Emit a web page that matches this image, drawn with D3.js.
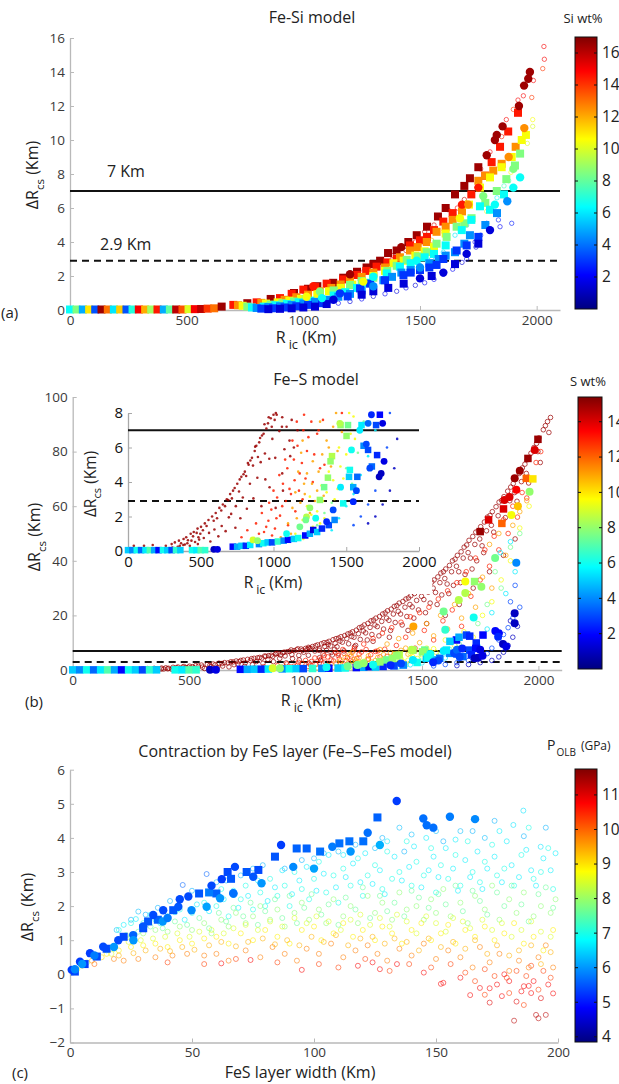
<!DOCTYPE html>
<html><head><meta charset="utf-8">
<script src="https://cdn.jsdelivr.net/npm/d3@7"></script>
<style>
body{margin:0;background:#fff}
svg{display:block;font-family:"Open Sans",sans-serif}
</style>
</head><body>
<svg id="fig" width="619" height="1084"></svg>
<script>
// ---------- (a) Fe-Si model: [R_ic km, dR_cs km, Si wt%] ----------
const siSquares = [
 [0,0.03,6.5],[28,0.03,8.5],[55,0.03,5],[82,0.03,11],[108,0.03,3.5],[135,0.03,16.5],[162,0.03,13],[188,0.03,6],[215,0.03,11.5],[242,0.03,3.5],[268,0.03,7],[295,0.03,15],[322,0.03,12],[348,0.03,9],[375,0.03,14.5],[402,0.03,5],[428,0.03,8],[455,0.03,16],[482,0.03,13.5],[508,0.05,10],[535,0.05,15],[562,0.06,16],[590,0.08,14],[618,0.1,13],
 [650,0.2,16.5],[760,0.4,16.5],[860,0.65,16.5],[960,1.0,16.5],[1060,1.4,16.5],[1128,1.6,16.5],[1171,1.9,16.5],[1271,2.5,16.5],[1329,2.9,16.5],[1363,3.35,16.5],[1486,4.4,16.5],[1577,5.5,16.5],[1650,6.8,16.5],[1714,7.75,16.5],
 [1020,1.25,16.5],[1230,2.25,16.5],[1300,2.7,16.5],[1400,3.5,16.5],[1450,4.0,16.5],[1530,4.9,16.5],[1610,6.0,16.5],[1690,7.3,16.5],[1750,8.4,16.5],
 [700,0.3,14.5],[800,0.45,14.5],[900,0.7,14.5],[1000,1.2,14.5],[1100,1.55,14.5],[1229,2.06,14.5],[1314,2.55,14.5],[1400,3.0,14.5],[1457,3.8,14.5],[1530,4.3,14.5],[1600,5.2,14.5],[1807,8.7,14.5],[1843,9.6,14.5],[1878,10.5,14.5],[1920,11.6,14.5],
 [950,0.95,14.5],[1050,1.35,14.5],[1170,1.8,14.5],[1270,2.3,14.5],[1360,2.8,14.5],[1500,4.1,14.5],[1560,4.7,14.5],[1640,5.7,14.5],[1720,6.8,14.5],[1780,7.9,14.5],
 [720,0.28,12.5],[820,0.42,12.5],[920,0.6,12.5],[1020,0.9,12.5],[1120,1.3,12.5],[1200,1.7,12.5],[1300,2.2,12.5],[1414,3.1,12.5],[1457,3.5,12.5],[1529,4.0,12.5],[1571,4.6,12.5],[1640,5.3,12.5],[1750,7.6,12.5],[1814,8.2,12.5],
 [970,0.75,12.5],[1070,1.1,12.5],[1160,1.5,12.5],[1250,1.95,12.5],[1350,2.5,12.5],[1490,3.7,12.5],[1610,4.9,12.5],[1680,5.8,12.5],[1780,7.9,12.5],[1850,8.6,12.5],[1910,9.6,12.5],
 [740,0.25,10.5],[840,0.38,10.5],[940,0.55,10.5],[1110,1.1,10.5],[1350,2.3,10.5],[1386,2.75,10.5],[1480,3.2,10.5],[1560,3.7,10.5],[1757,7.2,10.5],[1850,8.4,10.5],[1893,9.0,10.5],[1936,10.0,10.5],[1954,10.3,10.5],
 [890,0.45,10.5],[990,0.65,10.5],[1060,0.95,10.5],[1160,1.3,10.5],[1210,1.5,10.5],[1300,2.0,10.5],[1430,2.9,10.5],[1520,3.45,10.5],[1610,4.5,10.5],[1710,6.2,10.5],[1800,7.8,10.5],
 [760,0.2,8.5],[860,0.32,8.5],[960,0.5,8.5],[1200,1.47,8.5],[1300,1.9,8.5],[1443,2.95,8.5],[1529,3.4,8.5],[1571,3.9,8.5],[1614,4.3,8.5],[1657,4.9,8.5],[1721,5.4,8.5],[1829,7.0,8.5],[1907,8.5,8.5],[1929,9.2,8.5],
 [910,0.4,8.5],[1010,0.65,8.5],[1130,1.15,8.5],[1250,1.7,8.5],[1360,2.3,8.5],[1400,2.6,8.5],[1490,3.15,8.5],[1690,5.1,8.5],[1780,6.3,8.5],[1870,7.7,8.5],
 [780,0.15,6.5],[880,0.28,6.5],[980,0.45,6.5],[1180,1.05,6.5],[1357,2.15,6.5],[1414,2.55,6.5],[1560,3.3,6.5],[1679,4.7,6.5],[1757,6.1,6.5],
 [830,0.2,6.5],[930,0.35,6.5],[1030,0.55,6.5],[1130,0.85,6.5],[1230,1.3,6.5],[1270,1.6,6.5],[1460,2.75,6.5],[1520,3.1,6.5],[1610,3.8,6.5],[1720,5.3,6.5],[1800,5.9,6.5],[1860,6.8,6.5],
 [800,0.12,4.5],[900,0.22,4.5],[1000,0.38,4.5],[1100,0.6,4.5],[1200,0.95,4.5],[1343,1.75,4.5],[1420,2.2,4.5],[1580,3.0,4.5],[1650,3.4,4.5],[1714,4.4,4.5],
 [850,0.17,4.5],[950,0.3,4.5],[1050,0.48,4.5],[1150,0.78,4.5],[1250,1.15,4.5],[1380,1.95,4.5],[1460,2.35,4.5],[1540,2.75,4.5],[1610,3.2,4.5],[1690,3.9,4.5],[1780,5.0,4.5],[1830,5.7,4.5],
 [820,0.08,3],[920,0.15,3],[1020,0.3,3],[1243,1.27,3],[1286,1.55,3],[1429,2.05,3],[1500,2.35,3],[1571,2.65,3],[1600,3.0,3],[1657,3.5,3],
 [870,0.1,3],[970,0.22,3],[1080,0.4,3],[1190,0.8,3],[1350,1.75,3],[1460,2.2,3],[1540,2.5,3],[1700,3.8,3],[1750,4.3,3],
 [850,0.05,1.5],[950,0.1,1.5],[1050,0.2,1.5],[1364,1.3,1.5],
 [900,0.07,1.5],[1000,0.15,1.5],[1100,0.35,1.5],[1250,0.9,1.5],[1300,1.1,1.5],[1430,1.55,1.5],[1550,2.0,1.5],[1650,2.7,1.5],[1750,3.9,1.5]
];
const siDots = [
 [1200,2.1,16.5],[1420,3.7,16.5],[1786,9.1,16.5],[1821,10.0,16.5],[1829,10.3,16.5],[1854,10.8,16.5],[1924,12.0,16.5],[1946,13.2,16.5],[1964,13.6,16.5],[1971,14.0,16.5],
 [1043,1.4,14.5],[1680,6.2,14.5],[1750,7.2,14.5],
 [1707,6.2,12.5],[1880,9.0,12.5],[1947,10.7,12.5],
 [1014,0.78,10.5],[1257,1.67,10.5],[1671,5.4,10.5],
 [1071,1.08,8.5],[1771,6.7,8.5],[1900,8.3,8.5],
 [1080,0.7,6.5],[1300,1.96,6.5],[1486,2.9,6.5],[1821,6.2,6.5],[1900,7.2,6.5],[1929,7.8,6.5],
 [1300,1.4,4.5],[1500,2.5,4.5],[1874,6.4,4.5],
 [1157,0.98,3],
 [1129,0.6,1.5],[1500,1.86,1.5],[1600,2.2,1.5],[1700,3.3,1.5],[1800,4.7,1.5]
];
const siOpen = [
 [2031,15.5,15],[2033,14.75,15],[2026,14.2,14],[1986,13.5,15],[1979,12.5,14],[1943,12.6,15],[1920,12.35,15],[1900,11.8,14],[1870,11.2,15],[1850,10.2,14.5],[1800,9.3,15],[1760,8.3,15.5],[1690,6.5,16],[1660,6.0,15],[1620,5.9,16],[1560,5.0,15.5],[1520,4.6,16],[1480,4.0,15],[1440,3.5,16],[1380,3.2,15.5],[1330,2.8,16],[1260,2.3,15],[1180,1.8,16],[1100,1.4,15.5],[1000,1.1,16],
 [1983,11.2,10.5],[1983,10.8,10],[1960,9.8,10],[1890,8.1,10.5],
 [1880,7.6,7],[1860,7.3,7.5],[1830,6.6,6.5],[1800,5.8,8],[1786,5.8,10],
 [1893,5.1,2.5],[1843,4.9,2],[1836,5.3,2.5],[1786,5.1,3],[1736,4.0,2],[1740,3.7,1.5],[1760,4.4,2.5],[1700,3.0,2],[1680,2.8,1.5],[1640,2.4,2],[1600,2.1,1.5],[1560,1.8,2],[1520,1.6,2],[1480,1.45,1.5],[1440,1.3,2],[1400,1.1,1.5],[1350,0.95,2],[1300,0.8,1.5],[1250,0.65,2],[1200,0.5,1.5],[1150,0.4,2],[1100,0.3,1.5],[1050,0.25,2],[1000,0.15,1.5],[950,0.1,2],[900,0.07,1.5],
 [1700,5.0,5],[1650,4.4,6],[1600,3.4,6],[1550,3.0,5],[1500,2.6,5.5],[1450,2.3,6],[1600,4.6,11],[1650,5.5,12],[1700,6.3,13],[1550,4.1,12]
];
const siRange = [0, 17];
const siTicksX = [0, 500, 1000, 1500, 2000];
const siTicksY = [0, 2, 4, 6, 8, 10, 12, 14, 16];
const siBarTicks = [2, 4, 6, 8, 10, 12, 14, 16];

// ---------- (b) Fe-S model: [R_ic km, dR_cs km, S wt%] ----------
const sOpen = [
 // highest S content: dense band under the upper envelope
 [300,0.4,15],[305,0.2,15],[322,0.5,15],[350,0.6,15],[356,0.3,15],[382,0.7,15],[400,0.8,15],[408,0.45,15],[431,1.0,15],[436,0.6,15],[452,1.1,15],[478,1.3,15],[484,0.8,15],[502,1.4,15],[497,1.0,15],[528,1.6,15],[553,1.8,15],[578,2.0,15],[603,2.2,15],[628,2.5,15],[652,2.7,15],[679,3.0,15],[702,3.3,15],[722,3.5,15],[751,3.9,15],[779,4.3,15],[803,4.6,15],[829,5.0,15],[852,5.4,15],[871,5.8,15],[882,6.1,15],[902,6.3,15],[921,6.7,15],[932,6.8,15],[951,7.1,15],[962,7.4,15],[981,7.7,15],[1000,7.9,15],[1016,8.0,15],
 [342,0.25,15],[365,0.45,15],[391,0.38,15],[412,0.62,15],[425,0.3,15],[447,0.85,15],[461,0.52,15],[472,1.05,15],[489,0.66,15],[515,1.2,15],[521,0.75,15],[540,1.45,15],[557,1.05,15],[566,0.55,15],[589,1.75,15],[594,1.25,15],[612,1.9,15],[621,0.85,15],[641,2.35,15],[644,1.45,15],[667,2.6,15],[671,1.15,15],[689,2.95,15],[693,1.95,15],[709,2.15,15],[714,3.05,15],[733,3.65,15],[738,1.35,15],[741,2.6,15],[763,3.45,15],[768,4.15,15],[772,1.9,15],[789,3.1,15],[794,4.45,15],[812,4.35,15],[817,2.45,15],[824,5.1,15],[838,3.9,15],[841,5.25,15],[859,4.95,15],[862,3.05,15],[874,6.05,15],[889,4.25,15],[893,5.45,15],[908,6.55,15],[912,5.15,15],[917,2.6,15],[938,7.35,15],[941,5.65,15],[944,4.15,15],[967,7.75,15],[971,5.35,15],[973,3.7,15],[988,7.2,15],[992,6.5,15],[1008,7.6,15],[1012,5.4,15],[1022,7.9,15],[1040,6.95,15],[1060,7.75,15],[1075,5.9,15],[1090,7.2,15],[1110,6.4,15],[1125,7.6,15],
 [1030,8.6,15],[1052,9.2,15],[1079,10.0,15],[1083,8.6,15],[1101,10.5,15],[1097,9.3,15],[1131,11.5,15],[1127,9.8,15],[1135,8.5,15],[1152,12.2,15],[1148,10.6,15],[1181,13.2,15],[1177,11.5,15],[1185,9.6,15],[1202,14,15],[1198,12.3,15],[1231,15.5,15],[1227,13.3,15],[1235,11.2,15],[1252,16.5,15],[1248,14.3,15],[1281,18,15],[1277,15.6,15],[1285,13,15],[1302,19,15],[1298,16.5,15],[1331,20.5,15],[1327,17.8,15],[1335,15,15],[1352,21.7,15],[1348,19,15],[1381,23.3,15],[1377,20.5,15],[1385,17.4,15],[1402,24.5,15],[1398,21.5,15],[1431,26,15],[1427,23,15],[1435,19.6,15],[1452,27.2,15],[1448,24,15],[1481,29,15],[1477,25.5,15],[1485,22,15],[1502,30,15],[1498,27,15],[1531,32,15],[1527,28.5,15],[1535,24.5,15],[1552,33,15],[1548,30,15],[1581,35.5,15],[1577,32,15],[1585,27.5,15],[1602,37,15],[1598,33.5,15],[1631,40,15],[1627,36,15],[1635,31,15],[1652,42,15],[1648,38,15],[1681,45,15],[1677,41,15],[1685,35,15],[1702,47.5,15],[1698,43,15],[1731,50.5,15],[1727,46,15],[1735,40,15],[1752,52.5,15],[1748,48,15],[1781,56,15],[1777,51,15],[1802,58,15],[1798,53,15],[1831,61.5,15],[1827,56.5,15],[1852,63.5,15],[1848,59,15],[1881,67,15],[1877,62,15],[1902,70,15],[1898,65,15],[1931,74,15],[1927,69,15],[1952,77,15],[1948,72,15],[1981,81.5,15],[2002,85,15],[1998,80,15],[2021,88,15],[2039,91,15],[2052,92.5,15],
 [1012,8.3,15],[1043,8.9,15],[1058,7.2,15],[1068,9.6,15],[1092,10.1,15],[1108,8.8,15],[1118,11.1,15],[1142,11.7,15],[1158,10.2,15],[1168,12.6,15],[1192,13.5,15],[1208,12.0,15],[1218,14.6,15],[1242,15.8,15],[1258,13.6,15],[1268,17.1,15],[1292,18.3,15],[1308,15.9,15],[1318,19.6,15],[1342,20.9,15],[1358,18.2,15],[1368,22.3,15],[1392,23.6,15],[1408,20.5,15],[1418,25.1,15],[1442,26.4,15],[1458,23.1,15],[1468,28.0,15],[1492,29.2,15],[1508,25.8,15],[1518,30.9,15],[1542,32.2,15],[1558,28.4,15],[1568,34.1,15],[1592,36.0,15],[1608,31.5,15],[1618,38.3,15],[1642,40.6,15],[1658,36.0,15],[1668,43.3,15],[1692,45.8,15],[1708,41.0,15],[1718,48.9,15],[1742,51.0,15],[1758,45.5,15],[1768,54.2,15],[1792,56.6,15],[1808,50.5,15],[1818,59.8,15],[1842,62.1,15],[1858,55.8,15],[1868,65.5,15],[1892,68.3,15],[1908,61.8,15],[1918,72.0,15],[1942,75.4,15],[1958,68.5,15],[1968,79.4,15],[1992,83.0,15],[2008,76.0,15],[2030,89.5,15],[2045,87.0,15],
 [1060,4.5,15],[1140,6.0,15],[1210,8.5,15],[1290,10.5,15],[1360,12,15],[1440,14.5,15],[1520,17,15],[1600,20,15],[1660,24,15],[1720,30,15],[1790,36,15],[1850,42,15],[1900,48,15],
 [1015,2.5,15],[1065,3.5,15],[1115,5.5,15],[1165,7,15],[1215,9,15],[1265,11,15],[1315,12.5,15],[1365,14.5,15],[1415,16.5,15],[1465,19,15],[1515,21,15],[1565,24,15],[1615,28,15],[1665,32,15],[1715,37,15],[1765,43,15],
 [40,0.3,15],[110,0.3,15],[170,0.35,15],[260,0.3,15],[380,0.35,15],[480,0.4,15],
 // 13 wt%
 [780,0.8,13],[820,1.2,13],[850,0.6,13],[880,1.6,13],[900,1.0,13],[920,2.2,13],[950,1.4,13],[970,2.8,13],[990,0.9,13],[1000,3.5,13],[1020,1.9,13],[1040,4.4,13],[1060,2.6,13],[1080,5.3,13],[1100,1.5,13],[1110,3.6,13],[1130,6.4,13],[1150,2.3,13],[1160,7.5,13],[1180,4.5,13],[1200,3.0,13],[1210,7.9,13],[1230,5.8,13],[1250,9.5,13],[1270,4.0,13],[1290,11.5,13],[1310,7,13],[1330,13.5,13],[1350,5,13],[1370,15.5,13],[1390,9,13],[1410,17.5,13],[1430,12,13],[1450,19.5,13],[1470,8,13],[1490,21,13],[1510,14.5,13],[1530,23,13],[1550,11,13],[1570,26,13],[1590,18,13],[1610,29,13],[1630,22,13],[1650,32,13],[1670,16,13],[1690,36,13],[1710,27,13],[1730,41,13],[1750,33,13],[1770,44,13],[1790,38,13],[1810,49,13],[1830,44,13],[1850,55,13],[1870,50,13],[1890,60,13],[1910,56,13],[1930,65,13],[1950,63,13],[1970,70,13],[1990,76,13],[2010,80,13],
 [905,0.6,13],[935,1.1,13],[965,1.75,13],[985,2.4,13],[1010,1.3,13],[1025,3.1,13],[1045,2.05,13],[1065,3.9,13],[1085,2.9,13],[1095,4.8,13],[1120,3.3,13],[1140,5.3,13],[1145,4.1,13],[1165,6.1,13],[1175,3.5,13],[1195,5.1,13],[1205,7.0,13],[1220,4.2,13],[1240,6.6,13],[1260,7.5,13],[1280,5.6,13],[1300,6.8,13],[1320,4.8,13],[1340,7.6,13],
 // 11 wt%
 [1050,0.8,11],[1100,1.6,11],[1130,2.5,11],[1150,3.4,11],[1170,4.6,11],[1190,5.7,11],[1200,6.4,11],[1210,3.9,11],[1230,4.5,11],[1250,2.2,11],[1270,5.2,11],[1300,3.5,11],[1320,7.5,11],[1350,9.5,11],[1380,6,11],[1400,11.5,11],[1430,8,11],[1460,13.5,11],[1490,10,11],[1520,17,11],[1550,12.5,11],[1580,20,11],[1610,15,11],[1640,24,11],[1670,19,11],[1700,28,11],[1730,23,11],[1760,34,11],[1790,46,11],[1800,30,11],[1830,50,11],[1860,42,11],[1890,53,11],[1920,58,11],[1950,62,11],
 [1120,1.0,11],[1160,1.9,11],[1185,2.8,11],[1215,3.3,11],[1240,2.6,11],[1265,3.9,11],[1285,2.9,11],[1310,4.6,11],[1335,5.6,11],[1345,3.2,11],[1365,6.4,11],[1395,4.9,11],[1410,7.2,11],[1440,5.8,11],[1470,6.9,11],
 // 9.5 wt%
 [1150,1.0,9.5],[1200,1.8,9.5],[1230,2.6,9.5],[1250,3.15,9.5],[1270,1.4,9.5],[1300,2.3,9.5],[1330,3.8,9.5],[1350,1.9,9.5],[1380,4.6,9.5],[1420,3.0,9.5],[1450,6,9.5],[1480,4.2,9.5],[1520,8,9.5],[1560,6.5,9.5],[1600,11,9.5],[1640,9,9.5],[1680,14,9.5],[1720,12,9.5],[1760,20,9.5],[1800,25,9.5],[1840,33,9.5],[1880,40,9.5],[1920,52,9.5],[1960,60,9.5],
 [1205,0.7,9.5],[1260,2.1,9.5],[1320,1.6,9.5],[1340,2.9,9.5],[1365,3.4,9.5],[1395,2.4,9.5],[1410,4.1,9.5],[1440,3.6,9.5],[1460,4.9,9.5],[1500,5.6,9.5],[1530,6.8,9.5],[1550,7.8,9.5],
 // 7.5 wt%
 [1250,0.9,7.5],[1300,1.5,7.5],[1350,2.2,7.5],[1400,2.8,7.5],[1430,1.8,7.5],[1470,3.6,7.5],[1500,4.8,7.5],[1540,3.9,7.5],[1580,5.7,7.5],[1620,7.5,7.5],[1660,9.5,7.5],[1700,13,7.5],[1740,17,7.5],[1780,24,7.5],[1814,36,7.5],[1840,30,7.5],[1880,45,7.5],[1920,50,7.5],
 // 5.5 wt%
 [1400,1.2,5.5],[1450,1.9,5.5],[1500,2.6,5.5],[1550,3.3,5.5],[1600,4.4,5.5],[1650,5.5,5.5],[1700,7,5.5],[1740,9,5.5],[1780,15,5.5],[1800,21,5.5],[1836,43,5.5],[1860,28,5.5],[1900,36,5.5],[1880,47,5.5],
 // 3 wt%
 [1550,1.5,3],[1600,2.0,3],[1650,2.7,3],[1700,3.5,3],[1740,4.5,3],[1780,6,3],[1800,8,3],[1830,11,3],[1850,13,3],[1870,15.5,3],[1890,19,3],[1920,23,3],[1900,31,3],[1880,25,3],
 // 1 wt%
 [1650,1.6,1],[1700,2.0,1],[1750,2.7,1],[1800,3.5,1],[1830,4.8,1],[1850,6.5,1],[1870,9,1],[1890,12,1],[1910,16,1],[1880,18,1]
];
const sSquares = [
 [0,0.05,5],[30,0.05,4],[60,0.05,6],[90,0.05,3.5],[120,0.05,5.5],[150,0.05,7],[180,0.05,4.5],[210,0.05,2],[240,0.05,6],[270,0.05,5],[300,0.05,3],[330,0.05,6.5],[360,0.05,5],[440,0.05,6],[470,0.05,5.5],[500,0.05,7],[530,0.05,6.5],
 [720,0.25,2],[750,0.25,4.5],[780,0.3,5],[810,0.3,2.5],[840,0.35,5.5],[900,0.4,4],[930,0.45,6],[960,0.5,5],[990,0.5,3],[1030,0.55,6.5],[1070,0.6,4],[1100,0.65,2],[1140,0.7,5],[1170,0.75,6],[1218,0.9,2],[1250,1.0,4.5],[1273,1.22,1.5],[1300,1.1,5],[1333,1.3,2.5],[1380,1.5,3],[1420,1.8,4],
 [1998,84.5,15],[1955,77.5,15],[1750,50.7,15],[1786,55,14],[1850,59,14],[1843,53.7,12],[1948,70.2,12],[1976,70,10],[1726,32.4,8],
 [1648,11,2],[1691,12.8,3],[1762,12.8,2],[1733,9.9,2.5],[1705,7.3,3],[1676,4.9,3.5],[1619,6.1,4],[1576,4.3,3.5],[1548,3.7,4.5],[1519,4.3,5],[1659,12,4.5],[1620,10.5,5],[1605,7.3,5.5],[1461,7.3,8],[1512,7.3,7.5],[1402,5.5,8.5],[1348,3.7,7.5],[1705,12.4,2.5],[1319,2.96,8],[1374,4.25,8],[1392,5.2,8],[1502,6.67,8],[1525,4.7,6],[1731,7.9,2],[1712,5.56,2.5],[1650,5.86,3],[1479,2.76,6]
];
const sDots = [
 [590,0.1,1],[615,0.1,1.5],[859,0.64,9],[890,0.6,8],[1090,1.0,6],[1181,1.4,7.5],[1227,1.98,8.5],[1222,1.8,7.5],[1250,2.5,8],[1290,1.9,6],[1456,7.4,8.5],[1536,5.86,6],[1593,7.0,5.5],[1638,6.2,3],[1650,7.4,3.5],[1750,7.4,1.5],[1662,4.8,3],[1726,4.3,1],[1570,3.5,3],[1548,2.86,2.5],[1410,2.38,3],[1365,1.7,2.5],[1673,7.9,2.5],[1461,3.7,5.5],
 [1984,80.6,14],[1920,73,15],[1898,70.2,15],[1854,62.3,14],[1876,63.4,14],[1905,66,13.5],[1912,60,10.5],[1884,56.8,9.5],[1962,65.3,8],[1686,32.4,9.5],[1755,30.5,8],[1686,28.2,8.5],[1658,25.6,8.5],[1593,21.4,7.5],[1722,19.2,6],[1600,14.7,6.5],[1463,15.9,11],[1814,41,7.5],[1905,39.3,4],[1898,20.8,1],[1898,17.1,1],[1815,14.3,2],[1830,13.5,2],[1848,9.5,1],[1862,8.6,1.5],[1827,12.2,2.5],[1740,4.5,1],[1760,5.2,1.5]
];
const sRange = [0, 15.4];
const sTicksX = [0, 500, 1000, 1500, 2000];
const sTicksY = [0, 20, 40, 60, 80, 100];
const sInsetTicksY = [0, 2, 4, 6, 8];
const sBarTicks = [2, 4, 6, 8, 10, 12, 14];

// ---------- (c) Fe-S-FeS model: [FeS layer km, dR_cs km, P_OLB GPa] ----------
const fesDots = [
 [0.7,0.13,5.3],[4.1,0.37,5.3],[8.2,0.62,5.3],[13.6,0.81,5.4],[19.8,1.0,5.4],[25.9,1.15,5.6],[30,1.4,5.5],[34.1,1.74,5.4],[38.2,1.88,5.4],[44.4,1.98,5.5],[48.5,2.28,5.4],[49.8,1.88,5.9],[56,1.98,6.1],[61.5,2.23,6.0],[67,2.36,5.9],[78.5,2.67,6.0],[86.5,3.79,5.3],[91.5,3.15,5.9],[107.5,3.74,5.8],[122,4.15,5.7],[127,3.79,6.2],[133.9,5.08,5.3],[144.8,4.57,5.7],[146.2,4.37,5.7],[148.9,4.3,5.7],[155.7,4.62,5.8],[166,4.55,5.9],[58,2.6,5.4],[62.2,2.79,5.3],[67.6,3.15,5.4],[75.1,2.86,5.5],[45,2.2,5.4],[38,1.55,6.0],[26,1.0,6.0],[18,0.8,6.0],[10,0.55,5.8],[5,0.3,6.0],[2,0.15,5.9],[40,1.65,5.8],[100,3.1,6.1],[115,3.6,6.0],[66.9,2.38,5.7]
];
const fesSquares = [
 [2,0.08,5.4],[6,0.3,5.3],[11,0.52,5.4],[15,0.75,5.4],[22,1.1,5.4],[30,1.35,5.4],[32,1.55,5.5],[36,1.6,5.6],[42.3,1.88,5.5],[52.9,2.37,5.5],[60,2.37,5.6],[64.6,3.0,5.4],[66,2.8,5.5],[72.4,3.0,5.5],[77.2,3.06,5.4],[84,3.45,5.5],[92.9,3.69,5.6],[97,3.69,5.6],[102.5,3.6,5.7],[110.4,3.84,5.7],[114.5,3.9,5.7],[120.2,3.9,5.7],[126,4.6,5.6],[57,2.4,5.8]
];
const fesOpen = [
 [3,0.15,8.5],[5,0.25,9],[7,0.35,8],[9,0.4,9.5],[11,0.55,7.5],[13,0.5,9],[15,0.7,7],[17,0.6,8.5],[10,0.3,10],[18,0.45,9.8],
 [19.1,1.3,6.3],[28,1.84,6.3],[46.2,2.62,5.6],[56,2.94,5.6],[60,2.7,6.3],[70,2.9,6.3],[75,3.1,6.3],[100,3.4,6.3],[110,3.6,6.3],[125,3.7,6.3],[135,4.3,6.3],[140,4.1,6.3],[150,4.2,6.3],[160,4.2,6.3],[170,4.0,6.3],[185.8,4.8,6.6],[181.7,4.38,6.6],[192.9,3.74,6.6],
 [25,1.6,6.2],[31,1.75,6.2],[36,1.95,6.2],[41,2.15,6.2],[50,2.45,6.2],[64,2.75,6.2],[79,3.2,6.2],[88,3.1,6.2],[95,3.35,6.2],[104,3.55,6.2],[117,3.8,6.2],[128,4.0,6.2],[137,3.6,6.2],[153,3.9,6.2],[165,4.2,6.2],[174,4.5,6.2],[186,4.05,6.2],[195,4.3,6.2],
 [20,1.3,7],[25,1.5,7],[30,1.5,7],[35,1.6,7],[40,1.7,7],[45,1.9,7],[50,1.8,7],[55,2.1,7],[60,2.0,7],[62,2.5,7],[65,1.7,7],[70,2.2,7],[72,2.6,7],[75,1.9,7],[78,2.4,7],[80,2.0,7],[82,2.8,7],[85,2.3,7],[88,2.6,7],[90,2.0,7],[92,3.0,7],[95,2.5,7],[98,2.2,7],[100,2.8,7],[102,3.3,7],[105,2.4,7],[108,2.9,7],[110,2.1,7],[112,3.1,7],[115,2.6,7],[118,3.4,7],[120,2.3,7],[122,2.9,7],[125,3.2,7],[128,2.5,7],[130,3.6,7],[132,2.8,7],[135,3.0,7],[138,3.9,7],[140,2.6,7],[142,3.3,7],[145,2.9,7],[148,3.7,7],[150,2.4,7],[152,3.2,7],[155,2.8,7],[158,3.5,7],[160,2.6,7],[163,3.9,7],[165,3.0,7],[168,2.7,7],[170,3.3,7],[173,3.8,7],[175,2.9,7],[178,3.1,7],[182,2.6,7],[185,3.5,7],[188,4.3,7],[190,2.8,7],[193,3.0,7],[196,3.7,7],[198,2.5,7],
 [22,1.45,6.7],[27,1.62,6.7],[33,1.75,6.7],[37,1.5,6.7],[43,1.82,6.7],[47,1.6,6.7],[52,2.05,6.7],[57,1.85,6.7],[63,2.2,6.7],[67,2.45,6.7],[69,1.95,6.7],[73,2.3,6.7],[77,2.75,6.7],[81,2.15,6.7],[84,2.55,6.7],[87,3.05,6.7],[91,2.35,6.7],[94,2.75,6.7],[97,3.15,6.7],[101,2.45,6.7],[104,2.95,6.7],[106,3.5,6.7],[109,2.55,6.7],[113,2.85,6.7],[116,3.25,6.7],[119,2.7,6.7],[121,3.55,6.7],[124,2.65,6.7],[127,3.05,6.7],[129,2.35,6.7],[133,3.45,6.7],[136,2.75,6.7],[139,3.15,6.7],[141,3.75,6.7],[144,2.55,6.7],[147,3.05,6.7],[149,3.45,6.7],[151,2.85,6.7],[154,3.7,6.7],[157,3.1,6.7],[159,2.45,6.7],[162,3.35,6.7],[164,2.85,6.7],[167,3.6,6.7],[169,2.5,6.7],[171,3.1,6.7],[174,3.45,6.7],[177,2.7,6.7],[179,3.9,6.7],[181,3.2,6.7],[184,2.85,6.7],[187,3.65,6.7],[189,3.05,6.7],[191,2.6,6.7],[194,3.4,6.7],[197,3.05,6.7],[199,3.55,6.7],[146,4.0,6.7],[158,3.95,6.7],[130,3.9,6.7],[112,3.5,6.7],[176,4.2,6.7],
 [20,1.0,7.9],[25,1.1,7.9],[30,1.2,7.9],[35,1.3,7.9],[40,1.25,7.9],[45,1.4,7.9],[50,1.3,7.9],[55,1.5,7.9],[58,1.2,7.9],[62,1.6,7.9],[65,1.4,7.9],[68,1.8,7.9],[72,1.5,7.9],[75,1.7,7.9],[78,2.0,7.9],[82,1.6,7.9],[85,1.9,7.9],[88,1.4,7.9],[92,1.8,7.9],[95,2.1,7.9],[98,1.6,7.9],[102,1.9,7.9],[105,1.5,7.9],[108,2.2,7.9],[112,1.7,7.9],[115,2.0,7.9],[118,1.5,7.9],[122,2.3,7.9],[125,1.8,7.9],[128,2.1,7.9],[132,1.6,7.9],[135,2.4,7.9],[138,1.9,7.9],[142,2.0,7.9],[145,1.6,7.9],[148,2.2,7.9],[150,1.8,7.9],[153,2.5,7.9],[156,1.7,7.9],[160,2.1,7.9],[163,1.5,7.9],[166,2.3,7.9],[170,1.9,7.9],[173,2.6,7.9],[176,1.6,7.9],[180,2.2,7.9],[183,1.8,7.9],[186,2.4,7.9],[190,1.7,7.9],[193,2.0,7.9],[197,1.8,7.9],[199,2.2,7.9],
 [23,1.15,7.6],[28,1.25,7.6],[33,1.4,7.6],[38,1.35,7.6],[43,1.55,7.6],[48,1.45,7.6],[53,1.65,7.6],[57,1.35,7.6],[61,1.8,7.6],[64,1.55,7.6],[67,1.95,7.6],[71,1.7,7.6],[74,2.1,7.6],[77,1.45,7.6],[80,1.85,7.6],[84,2.2,7.6],[87,1.65,7.6],[90,2.3,7.6],[93,1.5,7.6],[96,1.95,7.6],[99,2.35,7.6],[103,1.75,7.6],[106,2.05,7.6],[110,1.45,7.6],[113,2.25,7.6],[117,1.9,7.6],[120,2.55,7.6],[123,1.65,7.6],[127,2.3,7.6],[130,1.85,7.6],[133,2.1,7.6],[137,1.7,7.6],[140,2.45,7.6],[143,2.25,7.6],[147,1.95,7.6],[151,2.35,7.6],[154,2.05,7.6],[158,2.6,7.6],[161,1.85,7.6],[165,2.45,7.6],[168,2.15,7.6],[171,1.75,7.6],[175,2.4,7.6],[178,2.0,7.6],[181,2.6,7.6],[185,2.05,7.6],[188,1.55,7.6],[192,2.35,7.6],[195,2.55,7.6],[198,1.95,7.6],
 [15,0.6,8.9],[20,0.7,8.9],[25,0.8,8.9],[30,0.85,8.9],[35,0.9,8.9],[40,0.8,8.9],[45,1.0,8.9],[50,0.9,8.9],[55,1.05,8.9],[60,1.1,8.9],[65,0.9,8.9],[70,1.2,8.9],[75,1.0,8.9],[80,1.3,8.9],[85,1.1,8.9],[90,0.9,8.9],[95,1.3,8.9],[100,1.4,8.9],[103,1.0,8.9],[108,1.2,8.9],[112,1.5,8.9],[116,1.1,8.9],[120,1.3,8.9],[125,1.0,8.9],[128,1.4,8.9],[132,1.2,8.9],[136,0.9,8.9],[140,1.3,8.9],[144,1.5,8.9],[148,1.0,8.9],[152,1.2,8.9],[155,1.45,8.9],[158,0.9,8.9],[162,1.3,8.9],[166,1.1,8.9],[170,1.4,8.9],[174,1.0,8.9],[178,1.2,8.9],[182,1.5,8.9],[186,0.9,8.9],[190,1.1,8.9],[194,0.7,8.9],[198,1.3,8.9],
 [18,0.75,8.5],[24,0.95,8.5],[29,1.0,8.5],[34,1.05,8.5],[39,1.1,8.5],[44,1.2,8.5],[49,1.1,8.5],[53,1.25,8.5],[58,1.3,8.5],[63,1.2,8.5],[67,1.35,8.5],[72,1.45,8.5],[77,1.3,8.5],[82,1.55,8.5],[87,1.4,8.5],[92,1.65,8.5],[97,1.5,8.5],[101,1.7,8.5],[106,1.55,8.5],[111,1.3,8.5],[115,1.6,8.5],[119,1.75,8.5],[123,1.45,8.5],[127,1.65,8.5],[131,1.4,8.5],[134,1.75,8.5],[138,1.55,8.5],[142,1.2,8.5],[146,1.7,8.5],[150,1.5,8.5],[154,1.25,8.5],[157,1.65,8.5],[161,1.55,8.5],[164,1.35,8.5],[169,1.6,8.5],[173,1.3,8.5],[177,1.5,8.5],[181,1.1,8.5],[185,1.3,8.5],[189,1.55,8.5],[193,1.25,8.5],[197,1.1,8.5],
 [22,0.4,9.8],[28,0.45,9.8],[35,0.5,9.8],[42,0.55,9.8],[48,0.6,9.8],[55,0.55,9.8],[60,0.6,9.8],[65,0.4,9.8],[72,0.7,9.8],[78,0.5,9.8],[83,0.8,9.8],[88,0.6,9.8],[93,0.4,9.8],[97,0.75,9.8],[102,0.6,9.8],[107,0.9,9.8],[112,0.5,9.8],[117,0.7,9.8],[122,0.85,9.8],[126,0.6,9.8],[130,0.4,9.8],[135,0.75,9.8],[140,0.55,9.8],[145,0.9,9.8],[150,0.45,9.8],[155,0.7,9.8],[160,0.5,9.8],[165,0.2,9.8],[168,0.8,9.8],[172,0.35,9.8],[176,0.6,9.8],[180,0.1,9.8],[184,0.4,9.8],[188,0.2,9.8],[192,0.5,9.8],[195,0.85,9.8],[198,0.2,9.8],
 [20,0.55,9.4],[26,0.62,9.4],[31,0.7,9.4],[37,0.75,9.4],[41,0.68,9.4],[46,0.8,9.4],[51,0.72,9.4],[57,0.85,9.4],[62,0.95,9.4],[68,0.82,9.4],[73,0.95,9.4],[79,1.05,9.4],[84,0.88,9.4],[89,1.0,9.4],[94,0.85,9.4],[99,1.1,9.4],[104,0.95,9.4],[109,1.15,9.4],[114,0.85,9.4],[119,1.05,9.4],[124,1.1,9.4],[129,0.9,9.4],[133,1.05,9.4],[138,0.95,9.4],[143,0.7,9.4],[147,1.05,9.4],[152,0.8,9.4],[157,0.95,9.4],[162,0.75,9.4],[166,1.0,9.4],[171,0.6,9.4],[175,0.85,9.4],[180,0.55,9.4],[184,0.7,9.4],[189,0.85,9.4],[193,0.3,9.4],[197,0.65,9.4],
 [40,0.35,10.3],[55,0.3,10.3],[68,0.45,10.3],[85,0.35,10.3],[102,0.3,10.3],[110,0.2,10.3],[121,0.45,10.3],[131,0.1,10.3],[139,0.3,10.3],[148,0.2,10.3],[156,0.3,10.3],[162,0.05,10.3],[166,-0.2,10.3],[170,0.15,10.3],[174,-0.05,10.3],[179,-0.1,10.3],[183,0.1,10.3],[187,-0.05,10.3],[189,0.25,10.3],[194,0.1,10.3],[197,-0.1,10.3],[192,-0.45,10.3],[186,-0.9,10.3],[180,-0.55,10.3],[170,-0.6,10.3],
 [62,0.32,10.8],[74,0.42,10.8],[95,0.13,10.8],[118,0.25,10.8],[124,0.35,10.8],[127,0.15,10.8],[134,0.3,10.8],[145,0.05,10.8],[152,-0.28,10.8],[153,-0.25,10.8],[160,-0.1,10.8],[164,-0.61,10.8],[168,-0.4,10.8],[172,-0.41,10.8],[172,-0.83,11],[175,-0.3,10.8],[177,-0.64,10.8],[178,0.0,10.8],[180,-0.2,10.8],[183,-0.8,11],[185,-0.5,10.8],[182,-1.36,11.3],[186,-0.35,10.8],[188,-0.34,10.8],[189,-0.55,10.8],[190,-0.2,10.8],[191,-1.19,11.3],[192,-1.29,11.3],[193,-0.7,11],[195,-1.19,11.3],[196,-0.3,10.8],[198,-0.56,10.8]
];
const pRange = [3.85, 11.75];
const fesTicksX = [0, 50, 100, 150, 200];
const fesTicksY = [-2, -1, 0, 1, 2, 3, 4, 5, 6];
const pBarTicks = [4, 5, 6, 7, 8, 9, 10, 11];

// ---------- drawing ----------
const svg = d3.select("#fig");
svg.append("rect").attr("width", 619).attr("height", 1084).attr("fill", "#fff");

const clamp01 = v => Math.max(0, Math.min(1, v));
function jet(t) {
  t = clamp01(t);
  const r = clamp01(1.5 - Math.abs(4 * t - 3));
  const g = clamp01(1.5 - Math.abs(4 * t - 2));
  const b = clamp01(1.5 - Math.abs(4 * t - 1));
  return d3.rgb(r * 255, g * 255, b * 255).formatHex();
}
function colourOf(range) {
  const s = d3.scaleLinear().domain(range).range([0, 1]).clamp(true);
  return v => jet(s(v));
}

const AX = "#b9b9b9";
const fmt = d3.format("d");
function axes(x, y, xt, yt, o = {}) {
  const g = svg.append("g");
  const fs = o.fs || 13.5, col = o.col || "#3a3a3a";
  const ax = g.append("g").attr("transform", `translate(0,${y.range()[0]})`)
    .call(d3.axisBottom(x).tickValues(xt).tickFormat(fmt).tickSizeInner(-4).tickSizeOuter(0).tickPadding(o.xpad || 5));
  const ay = g.append("g").attr("transform", `translate(${x.range()[0]},0)`)
    .call(d3.axisLeft(y).tickValues(yt).tickFormat(d => d < 0 ? "\u2212" + Math.abs(d) : fmt(d)).tickSizeInner(-4).tickSizeOuter(0).tickPadding(o.ypad || 5));
  [ax, ay].forEach(a => {
    a.select(".domain").attr("stroke", o.line || AX).attr("stroke-width", 1.3);
    a.selectAll(".tick line").attr("stroke", o.line || AX);
    a.selectAll("text").attr("fill", col).attr("font-size", fs).attr("font-family", "Open Sans, sans-serif");
  });
  return g;
}

function refLines(x, y, x0, x1) {
  svg.append("line").attr("x1", x(x0)).attr("x2", x(x1)).attr("y1", y(7)).attr("y2", y(7))
    .attr("stroke", "#111").attr("stroke-width", 2);
  svg.append("line").attr("x1", x(x0)).attr("x2", x(x1)).attr("y1", y(2.9)).attr("y2", y(2.9))
    .attr("stroke", "#111").attr("stroke-width", 2).attr("stroke-dasharray", "7,5");
}

function openMarks(data, x, y, col, r, op) {
  svg.append("g").selectAll("circle").data(data).join("circle")
    .attr("cx", d => x(d[0])).attr("cy", d => y(d[1])).attr("r", r)
    .attr("fill", "none").attr("stroke", d => col(d[2])).attr("stroke-width", 1)
    .attr("stroke-opacity", op);
}
function dotMarks(data, x, y, col, r, op = 1) {
  svg.append("g").selectAll("circle").data(data).join("circle")
    .attr("cx", d => x(d[0])).attr("cy", d => y(d[1])).attr("r", r)
    .attr("fill", d => col(d[2])).attr("fill-opacity", op);
}
function squareMarks(data, x, y, col, s) {
  svg.append("g").selectAll("rect").data(data).join("rect")
    .attr("x", d => x(d[0]) - s / 2).attr("y", d => y(d[1]) - s / 2)
    .attr("width", s).attr("height", s).attr("fill", d => col(d[2]));
}

let gradN = 0;
function colourbar(x0, y0, w, h, range, ticks) {
  const id = "jetbar" + (gradN++);
  const lg = svg.append("defs").append("linearGradient").attr("id", id)
    .attr("x1", 0).attr("y1", 1).attr("x2", 0).attr("y2", 0);
  d3.range(0, 65).forEach(i => lg.append("stop").attr("offset", i / 64).attr("stop-color", jet(i / 64)));
  svg.append("rect").attr("x", x0).attr("y", y0).attr("width", w).attr("height", h)
    .attr("fill", `url(#${id})`).attr("stroke", "#111").attr("stroke-width", 1);
  const s = d3.scaleLinear().domain(range).range([y0 + h, y0]);
  const g = svg.append("g");
  ticks.forEach(t => {
    g.append("line").attr("x1", x0 + w - 3).attr("x2", x0 + w).attr("y1", s(t)).attr("y2", s(t)).attr("stroke", "#111");
    g.append("line").attr("x1", x0).attr("x2", x0 + 3).attr("y1", s(t)).attr("y2", s(t)).attr("stroke", "#111");
    g.append("text").attr("x", x0 + w + 5).attr("y", s(t)).attr("dy", "0.35em")
      .attr("font-size", 15.5).attr("fill", "#222").text(t);
  });
}

function yLabel(x, y, fs, col = "#222") {
  const t = svg.append("text").attr("transform", `translate(${x},${y}) rotate(-90)`)
    .attr("text-anchor", "middle").attr("font-size", fs).attr("fill", col);
  t.append("tspan").text("\u0394R");
  t.append("tspan").attr("dy", fs * 0.35).attr("font-size", fs * 0.72).text("cs");
  t.append("tspan").attr("dy", -fs * 0.35).text(" (Km)");
}
function ricLabel(x, y, fs, col = "#222") {
  const t = svg.append("text").attr("x", x).attr("y", y).attr("text-anchor", "middle")
    .attr("font-size", fs).attr("fill", col);
  t.append("tspan").text("R");
  t.append("tspan").attr("dx", 3).attr("dy", fs * 0.4).attr("font-size", fs * 0.8).text("ic");
  t.append("tspan").attr("dy", -fs * 0.4).text(" (Km)");
}
function label(x, y, txt, fs, anchor = "start", col = "#222") {
  svg.append("text").attr("x", x).attr("y", y).attr("font-size", fs).attr("fill", col)
    .attr("text-anchor", anchor).text(txt);
}

// ----- panel (a) -----
{
  const x = d3.scaleLinear().domain([0, 2100]).range([70, 560]);
  const y = d3.scaleLinear().domain([0, 16]).range([310, 38]);
  const col = colourOf(siRange);
  axes(x, y, siTicksX, siTicksY);
  refLines(x, y, 0, 2100);
  openMarks(siOpen, x, y, col, 2.2, 0.6);
  squareMarks(siSquares, x, y, col, 8);
  dotMarks(siDots, x, y, col, 4.2);
  label(312, 23, "Fe-Si model", 16, "middle");
  label(107, 177, "7 Km", 16);
  label(100, 250, "2.9 Km", 16);
  yLabel(38, 175, 16);
  ricLabel(306, 343, 16);
  label(1, 318, "(a)", 15);
  colourbar(575, 37, 22, 272, siRange, siBarTicks);
  label(583, 23, "Si wt%", 13, "middle");
}

// ----- panel (b) -----
{
  const x = d3.scaleLinear().domain([0, 2100]).range([72.7, 561.7]);
  const y = d3.scaleLinear().domain([0, 100]).range([670, 397]);
  const col = colourOf(sRange);
  axes(x, y, sTicksX, sTicksY);
  refLines(x, y, 0, 2100);
  openMarks(sOpen, x, y, col, 2.3, 0.7);
  squareMarks(sSquares, x, y, col, 7.5);
  dotMarks(sDots, x, y, col, 4);
  label(316, 385, "Fe\u2013S model", 16, "middle");
  yLabel(40, 537, 16);
  ricLabel(311, 706, 16);
  label(25, 707, "(b)", 15);
  colourbar(578, 397, 24, 272, sRange, sBarTicks);
  label(588, 386, "S wt%", 13, "middle");

  // inset: close-up of the lower range
  svg.append("rect").attr("x", 80).attr("y", 402).attr("width", 352).attr("height", 192).attr("fill", "#fff");
  const xi = d3.scaleLinear().domain([0, 2000]).range([128, 419]);
  const yi = d3.scaleLinear().domain([0, 8]).range([551, 413]);
  axes(xi, yi, sTicksX, sInsetTicksY, { fs: 15, col: "#111", line: "#a8a8a8" });
  refLines(xi, yi, 0, 2000);
  const inView = d => d[1] <= 8.15 && d[0] <= 2000;
  dotMarks(sOpen.filter(inView), xi, yi, col, 1.3, 0.85);
  squareMarks(sSquares.filter(inView), xi, yi, col, 6.5);
  dotMarks(sDots.filter(inView), xi, yi, col, 3.4);
  yLabel(96, 484, 15.5);
  ricLabel(273, 588, 15.5);
}

// ----- panel (c) -----
{
  const x = d3.scaleLinear().domain([0, 200]).range([70, 558]);
  const y = d3.scaleLinear().domain([-2, 6]).range([1042.5, 769.7]);
  const col = colourOf(pRange);
  axes(x, y, fesTicksX, fesTicksY);
  openMarks(fesOpen, x, y, col, 2.5, 0.55);
  squareMarks(fesSquares, x, y, col, 8);
  dotMarks(fesDots, x, y, col, 4.2);
  label(295, 757, "Contraction by FeS layer (Fe\u2013S\u2013FeS model)", 16, "middle");
  yLabel(33, 907, 16);
  label(300, 1078, "FeS layer width (Km)", 16, "middle");
  label(12, 1078, "(c)", 15);
  colourbar(575, 769, 22, 273, pRange, pBarTicks);
  const t = svg.append("text").attr("x", 547).attr("y", 750).attr("fill", "#222");
  t.append("tspan").attr("font-size", 14).text("P");
  t.append("tspan").attr("font-size", 10).attr("dy", 6).attr("dx", 1).text("OLB");
  t.append("tspan").attr("font-size", 12).attr("dy", -6).attr("dx", 5).text("(GPa)");
}
</script>
</body></html>
